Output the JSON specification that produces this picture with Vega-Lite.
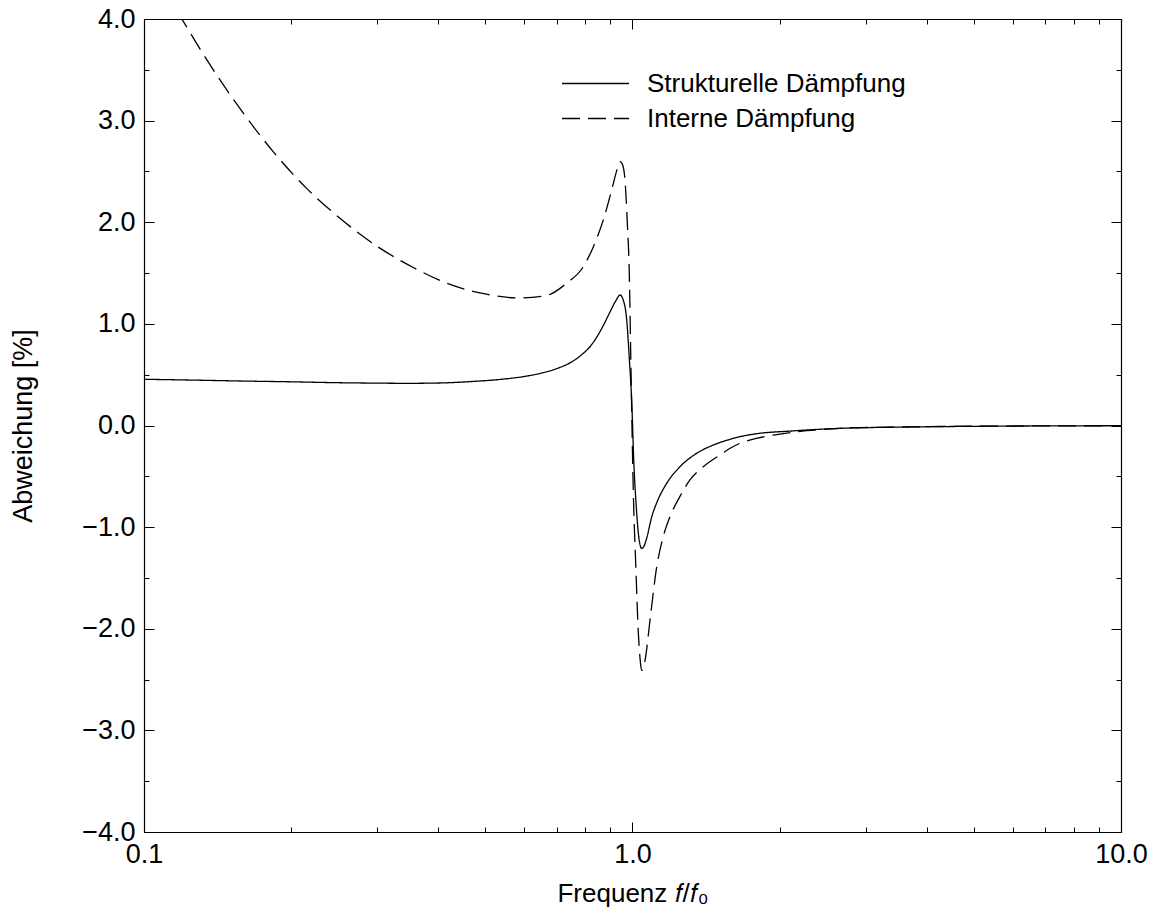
{
  "$schema": "https://vega.github.io/schema/vega-lite/v6.json",
  "width": 977,
  "height": 813,
  "autosize": "none",
  "padding": {"left": 144, "top": 19, "right": 33, "bottom": 81},
  "background": "white",
  "config": {
    "view": {"stroke": null},
    "font": "Liberation Sans",
    "axis": {
      "grid": false,
      "domainColor": "black",
      "domainWidth": 1.2,
      "tickColor": "black",
      "tickWidth": 1,
      "labelColor": "black",
      "labelFont": "Liberation Sans",
      "labelFontSize": 27,
      "labelOverlap": false,
      "labelFlush": false,
      "labelBound": false,
      "titleColor": "black",
      "titleFont": "Liberation Sans",
      "titleFontSize": 26,
      "titleFontWeight": "normal"
    }
  },
  "datasets": {
    "kurven": [
      {"f": 0.1, "v": 0.455, "kurve": "Strukturelle Dämpfung"},
      {"f": 0.125, "v": 0.447, "kurve": "Strukturelle Dämpfung"},
      {"f": 0.157, "v": 0.438, "kurve": "Strukturelle Dämpfung"},
      {"f": 0.2, "v": 0.43, "kurve": "Strukturelle Dämpfung"},
      {"f": 0.25, "v": 0.421, "kurve": "Strukturelle Dämpfung"},
      {"f": 0.3, "v": 0.417, "kurve": "Strukturelle Dämpfung"},
      {"f": 0.345, "v": 0.415, "kurve": "Strukturelle Dämpfung"},
      {"f": 0.4, "v": 0.418, "kurve": "Strukturelle Dämpfung"},
      {"f": 0.47, "v": 0.433, "kurve": "Strukturelle Dämpfung"},
      {"f": 0.54, "v": 0.455, "kurve": "Strukturelle Dämpfung"},
      {"f": 0.6, "v": 0.482, "kurve": "Strukturelle Dämpfung"},
      {"f": 0.65, "v": 0.515, "kurve": "Strukturelle Dämpfung"},
      {"f": 0.7, "v": 0.56, "kurve": "Strukturelle Dämpfung"},
      {"f": 0.75, "v": 0.625, "kurve": "Strukturelle Dämpfung"},
      {"f": 0.793, "v": 0.71, "kurve": "Strukturelle Dämpfung"},
      {"f": 0.82, "v": 0.78, "kurve": "Strukturelle Dämpfung"},
      {"f": 0.845, "v": 0.87, "kurve": "Strukturelle Dämpfung"},
      {"f": 0.875, "v": 1.0, "kurve": "Strukturelle Dämpfung"},
      {"f": 0.9, "v": 1.12, "kurve": "Strukturelle Dämpfung"},
      {"f": 0.925, "v": 1.23, "kurve": "Strukturelle Dämpfung"},
      {"f": 0.943, "v": 1.284, "kurve": "Strukturelle Dämpfung"},
      {"f": 0.958, "v": 1.23, "kurve": "Strukturelle Dämpfung"},
      {"f": 0.973, "v": 1.04, "kurve": "Strukturelle Dämpfung"},
      {"f": 0.985, "v": 0.66, "kurve": "Strukturelle Dämpfung"},
      {"f": 0.996, "v": 0.25, "kurve": "Strukturelle Dämpfung"},
      {"f": 1.007, "v": -0.4, "kurve": "Strukturelle Dämpfung"},
      {"f": 1.018, "v": -0.8, "kurve": "Strukturelle Dämpfung"},
      {"f": 1.028, "v": -1.06, "kurve": "Strukturelle Dämpfung"},
      {"f": 1.037, "v": -1.18, "kurve": "Strukturelle Dämpfung"},
      {"f": 1.044, "v": -1.21, "kurve": "Strukturelle Dämpfung"},
      {"f": 1.055, "v": -1.19, "kurve": "Strukturelle Dämpfung"},
      {"f": 1.069, "v": -1.11, "kurve": "Strukturelle Dämpfung"},
      {"f": 1.095, "v": -0.898, "kurve": "Strukturelle Dämpfung"},
      {"f": 1.121, "v": -0.76, "kurve": "Strukturelle Dämpfung"},
      {"f": 1.175, "v": -0.569, "kurve": "Strukturelle Dämpfung"},
      {"f": 1.251, "v": -0.405, "kurve": "Strukturelle Dämpfung"},
      {"f": 1.353, "v": -0.274, "kurve": "Strukturelle Dämpfung"},
      {"f": 1.464, "v": -0.192, "kurve": "Strukturelle Dämpfung"},
      {"f": 1.584, "v": -0.136, "kurve": "Strukturelle Dämpfung"},
      {"f": 1.66, "v": -0.11, "kurve": "Strukturelle Dämpfung"},
      {"f": 1.8, "v": -0.08, "kurve": "Strukturelle Dämpfung"},
      {"f": 2.1, "v": -0.055, "kurve": "Strukturelle Dämpfung"},
      {"f": 2.66, "v": -0.028, "kurve": "Strukturelle Dämpfung"},
      {"f": 3.64, "v": -0.015, "kurve": "Strukturelle Dämpfung"},
      {"f": 5, "v": -0.008, "kurve": "Strukturelle Dämpfung"},
      {"f": 7, "v": -0.004, "kurve": "Strukturelle Dämpfung"},
      {"f": 10, "v": -0.002, "kurve": "Strukturelle Dämpfung"},
      {"f": 0.11, "v": 4.29, "kurve": "Interne Dämpfung"},
      {"f": 0.1192, "v": 4.01, "kurve": "Interne Dämpfung"},
      {"f": 0.1344, "v": 3.6, "kurve": "Interne Dämpfung"},
      {"f": 0.1573, "v": 3.117, "kurve": "Interne Dämpfung"},
      {"f": 0.184, "v": 2.693, "kurve": "Interne Dämpfung"},
      {"f": 0.2153, "v": 2.333, "kurve": "Interne Dämpfung"},
      {"f": 0.2518, "v": 2.04, "kurve": "Interne Dämpfung"},
      {"f": 0.304, "v": 1.745, "kurve": "Interne Dämpfung"},
      {"f": 0.3558, "v": 1.555, "kurve": "Interne Dämpfung"},
      {"f": 0.4166, "v": 1.4, "kurve": "Interne Dämpfung"},
      {"f": 0.4873, "v": 1.305, "kurve": "Interne Dämpfung"},
      {"f": 0.584, "v": 1.255, "kurve": "Interne Dämpfung"},
      {"f": 0.667, "v": 1.28, "kurve": "Interne Dämpfung"},
      {"f": 0.733, "v": 1.4, "kurve": "Interne Dämpfung"},
      {"f": 0.793, "v": 1.563, "kurve": "Interne Dämpfung"},
      {"f": 0.8316, "v": 1.76, "kurve": "Interne Dämpfung"},
      {"f": 0.8715, "v": 2.023, "kurve": "Interne Dämpfung"},
      {"f": 0.9066, "v": 2.318, "kurve": "Interne Dämpfung"},
      {"f": 0.93, "v": 2.52, "kurve": "Interne Dämpfung"},
      {"f": 0.943, "v": 2.597, "kurve": "Interne Dämpfung"},
      {"f": 0.955, "v": 2.56, "kurve": "Interne Dämpfung"},
      {"f": 0.9652, "v": 2.416, "kurve": "Interne Dämpfung"},
      {"f": 0.9759, "v": 1.99, "kurve": "Interne Dämpfung"},
      {"f": 0.985, "v": 1.498, "kurve": "Interne Dämpfung"},
      {"f": 0.9916, "v": 0.71, "kurve": "Interne Dämpfung"},
      {"f": 1.004, "v": -0.667, "kurve": "Interne Dämpfung"},
      {"f": 1.016, "v": -1.4, "kurve": "Interne Dämpfung"},
      {"f": 1.028, "v": -2.045, "kurve": "Interne Dämpfung"},
      {"f": 1.038, "v": -2.33, "kurve": "Interne Dämpfung"},
      {"f": 1.044, "v": -2.41, "kurve": "Interne Dämpfung"},
      {"f": 1.051, "v": -2.4, "kurve": "Interne Dämpfung"},
      {"f": 1.061, "v": -2.31, "kurve": "Interne Dämpfung"},
      {"f": 1.09, "v": -1.85, "kurve": "Interne Dämpfung"},
      {"f": 1.121, "v": -1.39, "kurve": "Interne Dämpfung"},
      {"f": 1.155, "v": -1.1, "kurve": "Interne Dämpfung"},
      {"f": 1.193, "v": -0.898, "kurve": "Interne Dämpfung"},
      {"f": 1.25, "v": -0.7, "kurve": "Interne Dämpfung"},
      {"f": 1.311, "v": -0.536, "kurve": "Interne Dämpfung"},
      {"f": 1.396, "v": -0.405, "kurve": "Interne Dämpfung"},
      {"f": 1.51, "v": -0.29, "kurve": "Interne Dämpfung"},
      {"f": 1.584, "v": -0.224, "kurve": "Interne Dämpfung"},
      {"f": 1.66, "v": -0.175, "kurve": "Interne Dämpfung"},
      {"f": 1.8, "v": -0.125, "kurve": "Interne Dämpfung"},
      {"f": 1.943, "v": -0.094, "kurve": "Interne Dämpfung"},
      {"f": 2.274, "v": -0.051, "kurve": "Interne Dämpfung"},
      {"f": 2.66, "v": -0.028, "kurve": "Interne Dämpfung"},
      {"f": 3.3, "v": -0.017, "kurve": "Interne Dämpfung"},
      {"f": 4.26, "v": -0.01, "kurve": "Interne Dämpfung"},
      {"f": 6, "v": -0.005, "kurve": "Interne Dämpfung"},
      {"f": 10, "v": -0.002, "kurve": "Interne Dämpfung"}
    ]
  },
  "data": {"name": "kurven"},
  "resolve": {"axis": {"x": "independent", "y": "independent"}},
  "layer": [
    {
      "mark": {"type": "line", "color": "black", "strokeWidth": 1.3, "clip": true, "interpolate": "monotone"},
      "encoding": {
        "x": {
          "field": "f", "type": "quantitative",
          "scale": {"type": "log", "domain": [0.1, 10]},
          "axis": {
            "orient": "bottom",
            "title": "Frequenz 𝑓/𝑓₀",
            "values": [0.1, 0.2, 0.3, 0.4, 0.5, 0.6, 0.7, 0.8, 0.9, 1, 2, 3, 4, 5, 6, 7, 8, 9, 10],
            "labelExpr": "datum.value == 0.1 || datum.value == 1 || datum.value == 10 ? format(datum.value, '.1f') : ''",
            "tickSize": {"condition": {"test": "datum.value == 0.1 || datum.value == 1 || datum.value == 10", "value": -10}, "value": -5},
            "labelPadding": 19,
            "titlePadding": 8
          }
        },
        "y": {
          "field": "v", "type": "quantitative",
          "scale": {"domain": [-4, 4]},
          "axis": {
            "orient": "left",
            "title": "Abweichung [%]",
            "titleFontSize": 27,
            "values": [-4, -3.5, -3, -2.5, -2, -1.5, -1, -0.5, 0, 0.5, 1, 1.5, 2, 2.5, 3, 3.5, 4],
            "labelExpr": "datum.value % 1 == 0 ? format(datum.value, '.1f') : ''",
            "tickSize": {"condition": {"test": "datum.value % 1 == 0", "value": -10}, "value": -5},
            "labelPadding": 19,
            "titlePadding": 44
          }
        },
        "strokeDash": {
          "field": "kurve", "type": "nominal",
          "scale": {"domain": ["Strukturelle Dämpfung", "Interne Dämpfung"], "range": [[1, 0], [18, 8]]},
          "legend": {
            "orient": "none",
            "legendX": 434,
            "legendY": 47,
            "title": null,
            "padding": 0,
            "symbolType": "M-2,0H2",
            "symbolSize": 1122,
            "symbolStrokeWidth": 1.3,
            "symbolStrokeColor": "black",
            "labelFont": "Liberation Sans",
            "labelFontSize": 26,
            "labelColor": "black",
            "labelLimit": 500,
            "labelOffset": 34,
            "rowPadding": 4
          }
        }
      }
    },
    {
      "mark": {"type": "line", "strokeOpacity": 0, "clip": true},
      "encoding": {
        "x": {
          "field": "f", "type": "quantitative",
          "scale": {"type": "log", "domain": [0.1, 10]},
          "axis": {
            "orient": "top",
            "title": null,
            "labels": false,
            "values": [0.1, 0.2, 0.3, 0.4, 0.5, 0.6, 0.7, 0.8, 0.9, 1, 2, 3, 4, 5, 6, 7, 8, 9, 10],
            "tickSize": {"condition": {"test": "datum.value == 0.1 || datum.value == 1 || datum.value == 10", "value": -10}, "value": -5}
          }
        },
        "y": {
          "field": "v", "type": "quantitative",
          "scale": {"domain": [-4, 4]},
          "axis": {
            "orient": "right",
            "title": null,
            "labels": false,
            "values": [-4, -3.5, -3, -2.5, -2, -1.5, -1, -0.5, 0, 0.5, 1, 1.5, 2, 2.5, 3, 3.5, 4],
            "tickSize": {"condition": {"test": "datum.value % 1 == 0", "value": -10}, "value": -5}
          }
        },
        "detail": {"field": "kurve", "type": "nominal"}
      }
    }
  ]
}
